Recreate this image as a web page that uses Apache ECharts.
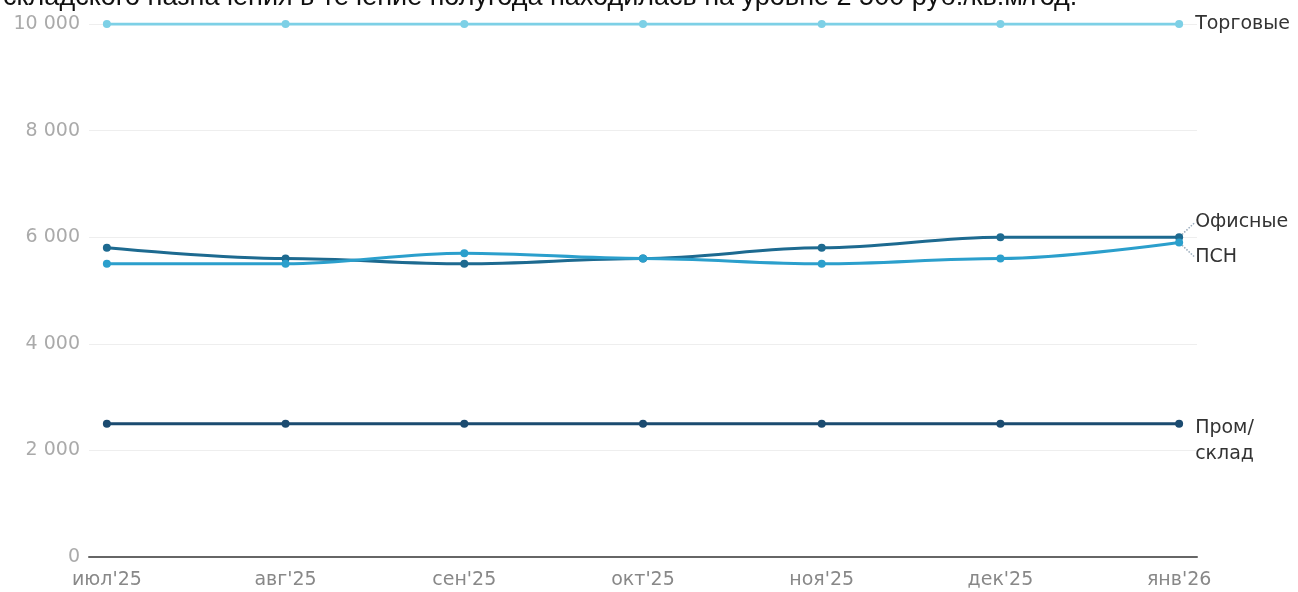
<!DOCTYPE html>
<html>
<head>
<meta charset="utf-8">
<script src="https://cdn.jsdelivr.net/npm/echarts@6/dist/echarts.min.js"></script>
<style>
html,body{margin:0;padding:0;background:#fff;}
#c{width:1298px;height:592px;}
</style>
</head>
<body>
<div id="c"></div>
<script>
const categories = ["июл'25","авг'25","сен'25","окт'25","ноя'25","дек'25","янв'26"];
const trade = [10000,10000,10000,10000,10000,10000,10000];
const office = [5800,5600,5500,5600,5800,6000,6000];
const psn = [5500,5500,5700,5600,5500,5600,5900];
const prom = [2500,2500,2500,2500,2500,2500,2500];
const names = ["Торговые","Офисные","ПСН","Пром/\nсклад"];
const colors = ["#7dd0e6","#1d6a90","#2b9fcc","#1b4b70"];
const headline = "складского назначения в течение полугода находилась на уровне 2 500 руб./кв.м/год.";

function fmt(v){ return String(v).replace(/\B(?=(\d{3})+(?!\d))/g,' '); }

function mk(name, arr, color, dy, line){
  return {
    name: name, type: 'line', smooth: 0.35, smoothMonotone: 'x',
    symbol: 'circle', symbolSize: 8,
    lineStyle: {width: 3, color: color},
    itemStyle: {color: color},
    emphasis: {disabled: true},
    data: arr.map((v,i) => {
      const d = {value: [i, v]};
      if (i === arr.length - 1) {
        d.label = {show: true, position: 'right', distance: 12, formatter: name,
          color: '#333', fontSize: 19, fontFamily: 'DejaVu Sans', lineHeight: 26,
          align: 'left', verticalAlign: dy === null ? 'top' : 'middle'};
        if (line) d.labelLine = {show: true, lineStyle: {color: '#9ab', type: 'dotted', width: 1.5}};
      }
      return d;
    }),
    labelLine: {show: !!line, lineStyle: {color: '#9ab', type: 'dotted', width: 1.5}},
    labelLayout: dy ? {dy: dy} : (dy === null ? {dy: -9} : undefined)
  };
}

const chart = echarts.init(document.getElementById('c'));
chart.setOption({
  animation: false,
  grid: {left: 89, right: 101, top: 24, bottom: 35},
  xAxis: {
    type: 'value', min: -0.1, max: 6.1,
    splitLine: {show: false},
    axisLine: {show: true, onZero: false, lineStyle: {color: '#666', width: 2}},
    axisTick: {show: false},
    axisLabel: {customValues: categories.map((c,i)=>i), formatter: v => categories[Math.round(v)],
      color: '#888', fontSize: 19, fontFamily: 'DejaVu Sans', margin: 14}
  },
  yAxis: {
    type: 'value', min: 0, max: 10000, interval: 2000,
    axisLine: {show: false}, axisTick: {show: false},
    splitLine: {lineStyle: {color: '#eeeeee', width: 1}},
    axisLabel: {formatter: v => fmt(v), color: '#aaa', fontSize: 19, fontFamily: 'DejaVu Sans', margin: 9}
  },
  graphic: [{
    type: 'text',
    style: {text: headline, x: 3, y: -16, font: '27px "Liberation Sans", Arial', fill: '#111'}
  }],
  series: [
    mk(names[0], trade, colors[0], 0, false),
    mk(names[1], office, colors[1], -15, true),
    mk(names[2], psn, colors[2], 15, true),
    mk(names[3], prom, colors[3], null, false)
  ]
});
</script>
</body>
</html>
